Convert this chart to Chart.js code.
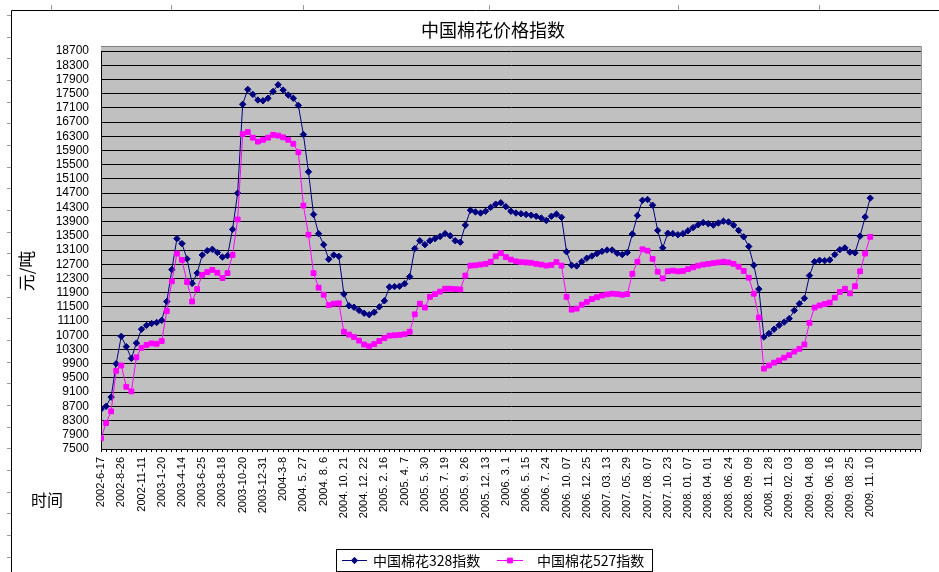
<!DOCTYPE html>
<html>
<head>
<meta charset="utf-8">
<script src="https://cdn.jsdelivr.net/npm/chart.js@4.4.0/dist/chart.umd.min.js"></script>
<style>
  html, body { margin: 0; padding: 0; background: #fff; overflow: hidden; }
  canvas { display: block; }
</style>
</head>
<body>
<canvas id="chart" width="939" height="572"></canvas>
<script>
// Category labels shown under the time axis
const tickLabels = [
  '2002-6-17', '2002-8-26', '2002-11-11', '2003-1-20', '2003-4-14', '2003-6-25',
  '2003-8-18', '2003-10-20', '2003-12-31', '2004-3-8', '2004. 5. 27', '2004. 8. 6',
  '2004. 10. 21', '2004. 12. 22', '2005. 2. 16', '2005. 4. 7', '2005. 5. 30', '2005. 7. 19',
  '2005. 9. 26', '2005. 12. 13', '2006. 3. 1', '2006. 5. 15', '2006. 7. 24', '2006. 10. 07',
  '2006. 12. 25', '2007. 03. 13', '2007. 05. 29', '2007. 08. 07', '2007. 10. 23', '2008. 01. 07',
  '2008. 04. 01', '2008. 06. 24', '2008. 09. 09', '2008. 11. 28', '2009. 02. 03', '2009. 04. 08',
  '2009. 06. 16', '2009. 08. 25', '2009. 11. 10'
];

// Number of quotes between two labelled dates
const POINTS_PER_LABEL = 4;

// 中国棉花328指数 (元/吨)
const cotton328 = [
  8620, 8700, 8960, 9900,
  10670, 10380, 10050, 10480,
  10870, 10980, 11030, 11060,
  11120, 11650, 12550, 13420,
  13280, 12850, 12160, 12450,
  12960, 13080, 13120, 13030,
  12900, 12940, 13680, 14700,
  17200, 17620, 17480, 17320,
  17300, 17370, 17560, 17750,
  17600, 17460, 17370, 17170,
  16350, 15300, 14100, 13560,
  13250, 12840, 12960, 12920,
  11860, 11530, 11490, 11400,
  11320, 11280, 11350, 11500,
  11670, 12060, 12070, 12080,
  12150, 12350, 13140, 13360,
  13250, 13360, 13420, 13480,
  13560, 13500, 13360, 13320,
  13800, 14220, 14170, 14140,
  14190, 14300, 14390, 14430,
  14320, 14190, 14140, 14120,
  14100, 14080, 14050, 14000,
  13930, 14050, 14110, 14020,
  13050, 12670, 12650, 12770,
  12870, 12930, 13000, 13060,
  13100, 13100, 13010, 12970,
  13030, 13550, 14070, 14500,
  14520, 14360, 13650, 13160,
  13570, 13560, 13530, 13560,
  13640, 13730, 13810, 13870,
  13840, 13800, 13860, 13910,
  13890, 13800, 13650, 13470,
  13200, 12670, 12000, 10650,
  10750, 10870, 10980, 11070,
  11170, 11400, 11590, 11740,
  12380, 12770, 12810, 12800,
  12820, 12970, 13110, 13160,
  13040, 13020, 13490, 14030,
  14560
];

// 中国棉花527指数 (元/吨)
const cotton527 = [
  7800, 8230, 8560, 9700,
  9850, 9250, 9120, 10080,
  10350, 10430, 10470, 10460,
  10540, 11380, 12220, 13000,
  12820, 12200, 11650, 12000,
  12400, 12480, 12540, 12460,
  12310, 12450, 12960, 13960,
  16360, 16420, 16260, 16150,
  16200, 16260, 16340, 16320,
  16270, 16200, 16090, 15850,
  14350, 13530, 12450, 12040,
  11840, 11550, 11590, 11600,
  10800, 10720, 10650, 10550,
  10440, 10390, 10450, 10540,
  10620, 10690, 10700, 10710,
  10730, 10800, 11290, 11590,
  11480, 11780, 11860, 11930,
  12010, 12010, 12000, 11990,
  12380, 12660, 12670, 12690,
  12710, 12770, 12920, 13010,
  12900, 12830, 12780, 12760,
  12750, 12740, 12710, 12690,
  12660, 12680, 12760, 12660,
  11780, 11420, 11450, 11560,
  11640, 11720, 11770, 11820,
  11850, 11870, 11860, 11840,
  11860, 12430, 12770, 13120,
  13080, 12850, 12490, 12300,
  12500, 12520, 12500, 12510,
  12560, 12610, 12660, 12690,
  12710, 12730, 12750, 12770,
  12750, 12710, 12630, 12510,
  12320, 11870, 11200, 9760,
  9850, 9930, 9990, 10070,
  10140, 10240, 10320, 10440,
  11050, 11480, 11540, 11580,
  11620, 11760, 11920, 12010,
  11880, 12080, 12500, 13000,
  13470
];

const Y_MIN = 7500, Y_MAX = 18700, Y_STEP = 400;
const X_MAX = 40.5;

const seriesNames = ['中国棉花328指数', '中国棉花527指数'];
const seriesColors = ['#000080', '#FF00FF'];

const CJK = '"Noto Sans CJK SC", "Noto Sans", sans-serif';
const LATIN = '"Liberation Sans", Arial, sans-serif';

const toPoints = arr => arr.map((v, i) => ({ x: i / POINTS_PER_LABEL, y: v }));

// Sheet frame, grey plot background, titles and legend box
const decorations = {
  id: 'decorations',
  beforeDraw(chart) {
    const { ctx, chartArea: a } = chart;
    ctx.save();
    ctx.fillStyle = '#fff';
    ctx.fillRect(0, 0, chart.width, chart.height);

    // outer chart frame
    ctx.strokeStyle = '#000';
    ctx.lineWidth = 1;
    ctx.beginPath();
    ctx.moveTo(11.5, 572); ctx.lineTo(11.5, 10.5); ctx.lineTo(939, 10.5);
    ctx.stroke();
    // row markers to the left of the frame
    ctx.strokeStyle = '#9a9a9a';
    ctx.beginPath();
    for (let y = 15; y < 572; y += 21.67) {
      const yy = Math.round(y) + 0.5;
      ctx.moveTo(7, yy); ctx.lineTo(11, yy);
    }
    // column markers above the frame
    [51, 171, 303, 489, 678, 819].forEach(x => {
      ctx.moveTo(x + 0.5, 5); ctx.lineTo(x + 0.5, 10);
    });
    ctx.stroke();

    // plot area
    ctx.fillStyle = '#C0C0C0';
    ctx.fillRect(a.left, a.top - 4, a.right - a.left, a.bottom - a.top + 4);
    ctx.strokeStyle = '#808080';
    ctx.beginPath();
    ctx.moveTo(a.left, a.top - 4.5); ctx.lineTo(a.right + 0.5, a.top - 4.5); ctx.lineTo(a.right + 0.5, a.bottom);
    ctx.stroke();
    ctx.restore();
  },
  afterDraw(chart) {
    const { ctx } = chart;
    ctx.save();
    ctx.fillStyle = '#000';
    ctx.textBaseline = 'middle';

    // chart title
    ctx.font = '18px ' + CJK;
    ctx.textAlign = 'center';
    ctx.fillText('中国棉花价格指数', 493, 30);

    // axis titles
    ctx.font = '16px ' + CJK;
    ctx.fillText('时间', 47, 500);
    ctx.save();
    ctx.translate(27, 271);
    ctx.rotate(-Math.PI / 2);
    ctx.font = '17px ' + CJK;
    ctx.fillText('元/吨', 0, 0);
    ctx.restore();

    // legend
    const box = { x: 336.5, y: 549.5, w: 316, h: 22 };
    ctx.fillStyle = '#fff';
    ctx.fillRect(box.x, box.y, box.w, box.h);
    ctx.strokeStyle = '#000';
    ctx.lineWidth = 1;
    ctx.strokeRect(box.x, box.y, box.w, box.h);
    const ly = 560.5;
    const items = [
      { x0: 342, x1: 367, tx: 373, style: 'rectRot', r: 3.2 },
      { x0: 497, x1: 523, tx: 537, style: 'rect', r: 3.4 }
    ];
    items.forEach((it, k) => {
      ctx.strokeStyle = seriesColors[k];
      ctx.fillStyle = seriesColors[k];
      ctx.beginPath();
      ctx.moveTo(it.x0, ly); ctx.lineTo(it.x1, ly);
      ctx.stroke();
      Chart.helpers.drawPoint(ctx, { pointStyle: it.style, radius: it.r, borderWidth: 1 }, (it.x0 + it.x1) / 2, ly);
      ctx.fillStyle = '#000';
      ctx.font = '14px ' + CJK;
      ctx.textAlign = 'left';
      ctx.fillText(seriesNames[k], it.tx, ly);
    });
    ctx.restore();
  }
};

new Chart(document.getElementById('chart'), {
  type: 'line',
  data: {
    datasets: [
      {
        label: seriesNames[0],
        data: toPoints(cotton328),
        borderColor: seriesColors[0],
        backgroundColor: seriesColors[0],
        borderWidth: 1,
        pointStyle: 'rectRot',
        pointRadius: 3.2,
        pointBorderWidth: 1,
        tension: 0,
        fill: false,
        order: 1
      },
      {
        label: seriesNames[1],
        data: toPoints(cotton527),
        borderColor: seriesColors[1],
        backgroundColor: seriesColors[1],
        borderWidth: 1,
        pointStyle: 'rect',
        pointRadius: 3.4,
        pointBorderWidth: 1,
        tension: 0,
        fill: false,
        order: 0
      }
    ]
  },
  options: {
    responsive: false,
    animation: false,
    devicePixelRatio: 1,
    events: [],
    layout: { padding: { left: 0, right: 14, top: 51, bottom: 0 } },
    plugins: {
      legend: { display: false },
      title: { display: false },
      tooltip: { enabled: false }
    },
    scales: {
      x: {
        type: 'linear',
        min: 0,
        max: X_MAX,
        afterBuildTicks(scale) {
          const n = Math.floor(X_MAX * POINTS_PER_LABEL);
          scale.ticks = Array.from({ length: n + 1 }, (_, k) => ({ value: k / POINTS_PER_LABEL }));
        },
        afterFit(scale) { scale.height = 123; },
        grid: { drawOnChartArea: false, tickLength: 3, color: '#000', lineWidth: 1 },
        border: { color: '#000', width: 1 },
        ticks: {
          autoSkip: false,
          minRotation: 90,
          maxRotation: 90,
          padding: 5,
          color: '#000',
          font: { family: LATIN, size: 11 },
          callback(value) {
            return Number.isInteger(value) && value < tickLabels.length ? tickLabels[value] : '';
          }
        }
      },
      y: {
        min: Y_MIN,
        max: Y_MAX,
        afterBuildTicks(scale) {
          const t = [];
          for (let v = Y_MIN; v <= Y_MAX; v += Y_STEP) t.push({ value: v });
          scale.ticks = t;
        },
        afterFit(scale) { scale.width = 101; },
        grid: { color: '#000', lineWidth: 1, drawTicks: false },
        border: { color: '#000', width: 1 },
        ticks: {
          autoSkip: false,
          padding: 12,
          color: '#000',
          font: { family: LATIN, size: 12 },
          callback: v => String(v)
        }
      }
    }
  },
  plugins: [decorations]
});
</script>
</body>
</html>
